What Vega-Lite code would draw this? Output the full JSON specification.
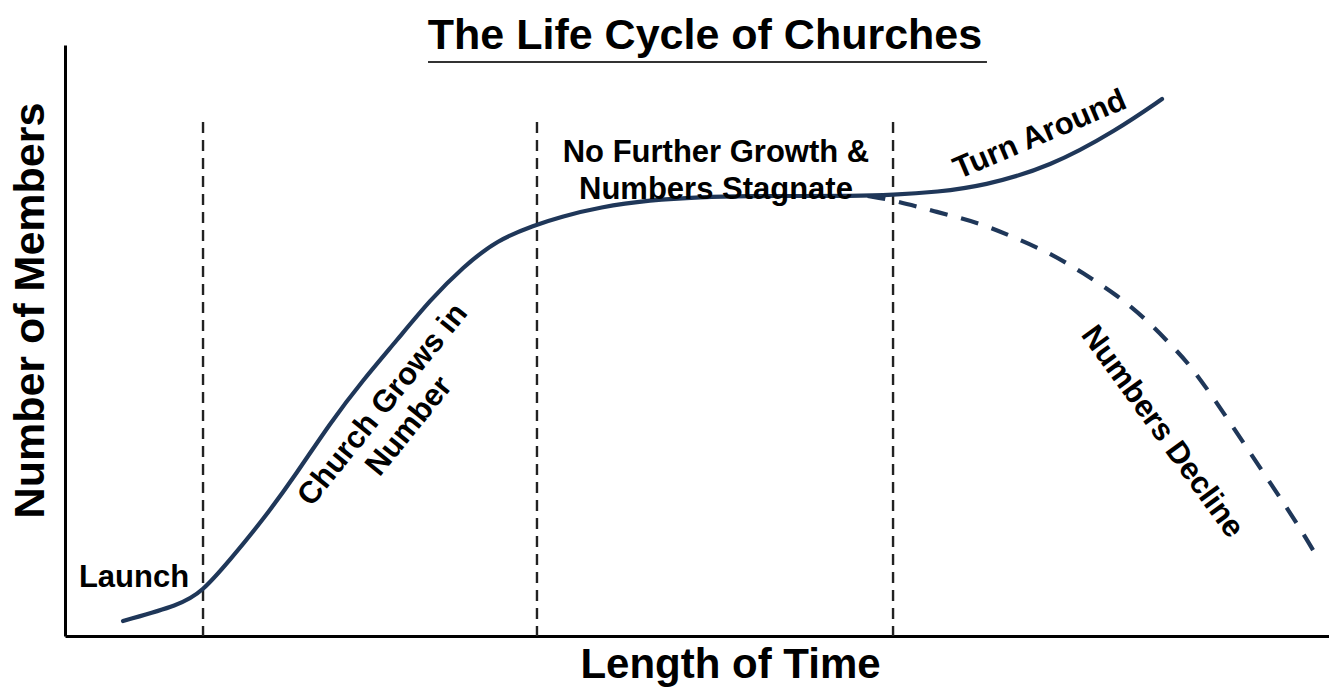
{
  "$schema": "https://vega.github.io/schema/vega-lite/v6.json",
  "width": 1264,
  "height": 591,
  "autosize": {"type": "none"},
  "padding": {"left": 65, "top": 45, "right": 0, "bottom": 52},
  "background": "white",
  "config": {
    "view": {"stroke": null},
    "font": "Liberation Sans",
    "text": {"font": "Liberation Sans"}
  },
  "title": {
    "text": "The Life Cycle of Churches",
    "fontSize": 43,
    "fontWeight": "bold",
    "font": "Liberation Sans",
    "color": "black",
    "anchor": "middle",
    "frame": "group",
    "dx": 8,
    "offset": -13
  },
  "datasets": {
    "main": [
      {"t": 4.59, "m": 2.54}, {"t": 9.10, "m": 5.25}, {"t": 10.84, "m": 7.45},
      {"t": 13.05, "m": 12.86}, {"t": 15.66, "m": 19.63}, {"t": 18.35, "m": 27.58},
      {"t": 20.97, "m": 36.04}, {"t": 23.58, "m": 43.32}, {"t": 26.27, "m": 50.08},
      {"t": 28.88, "m": 56.85}, {"t": 31.49, "m": 62.44}, {"t": 34.18, "m": 67.01},
      {"t": 37.18, "m": 69.54}, {"t": 39.16, "m": 70.90}, {"t": 42.33, "m": 72.59},
      {"t": 46.28, "m": 73.77}, {"t": 50.24, "m": 74.28}, {"t": 54.19, "m": 74.45},
      {"t": 58.15, "m": 74.45}, {"t": 62.10, "m": 74.45}, {"t": 65.51, "m": 74.62},
      {"t": 69.00, "m": 75.13}, {"t": 72.63, "m": 76.14}, {"t": 77.93, "m": 79.36},
      {"t": 83.23, "m": 85.62}, {"t": 86.79, "m": 90.86}
    ],
    "decline": [
      {"t": 63.50, "m": 74.45}, {"t": 65.51, "m": 73.77}, {"t": 68.99, "m": 71.74},
      {"t": 72.39, "m": 69.88}, {"t": 75.00, "m": 67.51}, {"t": 77.93, "m": 64.81},
      {"t": 80.54, "m": 61.42}, {"t": 83.23, "m": 57.70}, {"t": 85.60, "m": 53.47},
      {"t": 87.66, "m": 48.90}, {"t": 89.00, "m": 45.85}, {"t": 90.98, "m": 39.93},
      {"t": 93.35, "m": 32.32}, {"t": 95.73, "m": 24.70}, {"t": 97.71, "m": 18.27},
      {"t": 99.29, "m": 12.52}
    ],
    "phases": [
      {"t": 10.92, "m": 86.97, "m0": 0},
      {"t": 37.34, "m": 86.97, "m0": 0},
      {"t": 65.51, "m": 86.97, "m0": 0}
    ]
  },
  "layer": [
    {
      "data": {"name": "phases"},
      "mark": {"type": "rule", "stroke": "#222222", "strokeWidth": 2.4, "strokeDash": [11, 7]},
      "encoding": {
        "x": {"field": "t", "type": "quantitative", "scale": {"domain": [0, 100], "nice": false, "zero": false},
          "axis": {"title": "Length of Time", "labels": false, "ticks": false, "grid": false,
            "domain": true, "domainColor": "black", "domainWidth": 3,
            "titleFont": "Liberation Sans", "titleFontSize": 42, "titleFontWeight": "bold", "titleColor": "black",
            "titleX": 665, "titleY": 41, "titleAlign": "center", "titleBaseline": "alphabetic"}},
        "y": {"field": "m", "type": "quantitative", "scale": {"domain": [0, 100], "nice": false, "zero": false},
          "axis": {"title": "Number of Members", "labels": false, "ticks": false, "grid": false,
            "domain": true, "domainColor": "black", "domainWidth": 3,
            "titleFont": "Liberation Sans", "titleFontSize": 43, "titleFontWeight": "bold", "titleColor": "black",
            "titleX": -35, "titleY": 265, "titleAngle": 270, "titleAlign": "center", "titleBaseline": "middle"}},
        "y2": {"field": "m0"}
      }
    },
    {
      "data": {"name": "main"},
      "mark": {"type": "line", "interpolate": "basis", "stroke": "#1f3759", "strokeWidth": 4.2, "strokeCap": "round"},
      "encoding": {
        "x": {"field": "t", "type": "quantitative"},
        "y": {"field": "m", "type": "quantitative"}
      }
    },
    {
      "data": {"name": "decline"},
      "mark": {"type": "line", "interpolate": "basis", "stroke": "#1f3759", "strokeWidth": 4.2, "strokeDash": [18, 14]},
      "encoding": {
        "x": {"field": "t", "type": "quantitative"},
        "y": {"field": "m", "type": "quantitative"}
      }
    },
    {
      "data": {"values": [{"t": 28.72, "t2": 72.94, "m": 97.12}]},
      "mark": {"type": "rule", "stroke": "#333333", "strokeWidth": 2},
      "encoding": {
        "x": {"field": "t", "type": "quantitative"},
        "x2": {"field": "t2"},
        "y": {"field": "m", "type": "quantitative"}
      }
    },
    {
      "data": {"values": [{"t": 5.46, "m": 9.81, "label": "Launch"}]},
      "mark": {"type": "text", "fontSize": 31, "fontWeight": "bold", "align": "center", "baseline": "middle", "color": "black"},
      "encoding": {
        "x": {"field": "t", "type": "quantitative"},
        "y": {"field": "m", "type": "quantitative"},
        "text": {"field": "label"}
      }
    },
    {
      "data": {"values": [{"t": 25.16, "m": 39.09, "label": "Church Grows in\nNumber"}]},
      "mark": {"type": "text", "fontSize": 31, "fontWeight": "bold", "align": "center", "baseline": "middle", "angle": 309, "lineBreak": "\n", "lineHeight": 34, "color": "black"},
      "encoding": {
        "x": {"field": "t", "type": "quantitative"},
        "y": {"field": "m", "type": "quantitative"},
        "text": {"field": "label"}
      }
    },
    {
      "data": {"values": [{"t": 51.50, "m": 81.73, "label": "No Further Growth &\nNumbers Stagnate"}]},
      "mark": {"type": "text", "fontSize": 31, "fontWeight": "bold", "align": "center", "baseline": "middle", "lineBreak": "\n", "lineHeight": 37, "color": "black"},
      "encoding": {
        "x": {"field": "t", "type": "quantitative"},
        "y": {"field": "m", "type": "quantitative"},
        "text": {"field": "label"}
      }
    },
    {
      "data": {"values": [{"t": 77.14, "m": 84.77, "label": "Turn Around"}]},
      "mark": {"type": "text", "fontSize": 31, "fontWeight": "bold", "align": "center", "baseline": "middle", "angle": 337, "color": "black"},
      "encoding": {
        "x": {"field": "t", "type": "quantitative"},
        "y": {"field": "m", "type": "quantitative"},
        "text": {"field": "label"}
      }
    },
    {
      "data": {"values": [{"t": 86.79, "m": 34.52, "label": "Numbers Decline"}]},
      "mark": {"type": "text", "fontSize": 31, "fontWeight": "bold", "align": "center", "baseline": "middle", "angle": 54, "color": "black"},
      "encoding": {
        "x": {"field": "t", "type": "quantitative"},
        "y": {"field": "m", "type": "quantitative"},
        "text": {"field": "label"}
      }
    }
  ]
}
